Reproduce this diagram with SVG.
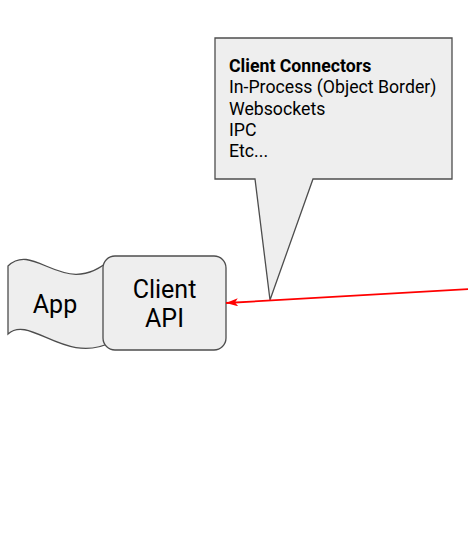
<svg xmlns="http://www.w3.org/2000/svg" width="468" height="557" viewBox="0 0 468 557">
<style>
.shape{fill:#eeeeee;stroke:#4d4d4d;stroke-width:1.3}
.lbl{font-family:Roboto,"Liberation Sans",sans-serif;fill:#000}
.big{font-size:25px;text-anchor:middle}
.note{font-size:17.7px}
</style>
<defs>
<marker id="arr" viewBox="0 0 12 8" refX="12" refY="4" markerWidth="12" markerHeight="8" markerUnits="userSpaceOnUse" orient="auto">
<path d="M0,0 L12,4 L0,8 L3,4 Z" fill="#ff0000"/>
</marker>
</defs>
<rect width="468" height="557" fill="#ffffff"/>
<g id="app">
<path class="shape" d="M8,266 C35,240 65,302 112,258 L112,342 C65,366 30,314 8,334 Z"/>
<text class="lbl big" x="55" y="313">App</text>
</g>
<g id="client-api">
<rect class="shape" x="103" y="256" width="123" height="94" rx="12" ry="12"/>
<text class="lbl big" x="164.5" y="298">Client</text>
<text class="lbl big" x="164.5" y="327">API</text>
</g>
<g id="callout">
<path class="shape" d="M215,38 L452,38 L452,179 L313,179 L270,300 L255,179 L215,179 Z"/>
<text class="lbl note" x="229" y="72" font-weight="bold">Client Connectors</text>
<text class="lbl note" x="229" y="93">In-Process (Object Border)</text>
<text class="lbl note" x="229" y="114.5">Websockets</text>
<text class="lbl note" x="229" y="136">IPC</text>
<text class="lbl note" x="229" y="157">Etc...</text>
</g>
<g id="connectors">
<line x1="470" y1="289" x2="226" y2="303" stroke="#ff0000" stroke-width="1.8" marker-end="url(#arr)"/>
</g>
</svg>
